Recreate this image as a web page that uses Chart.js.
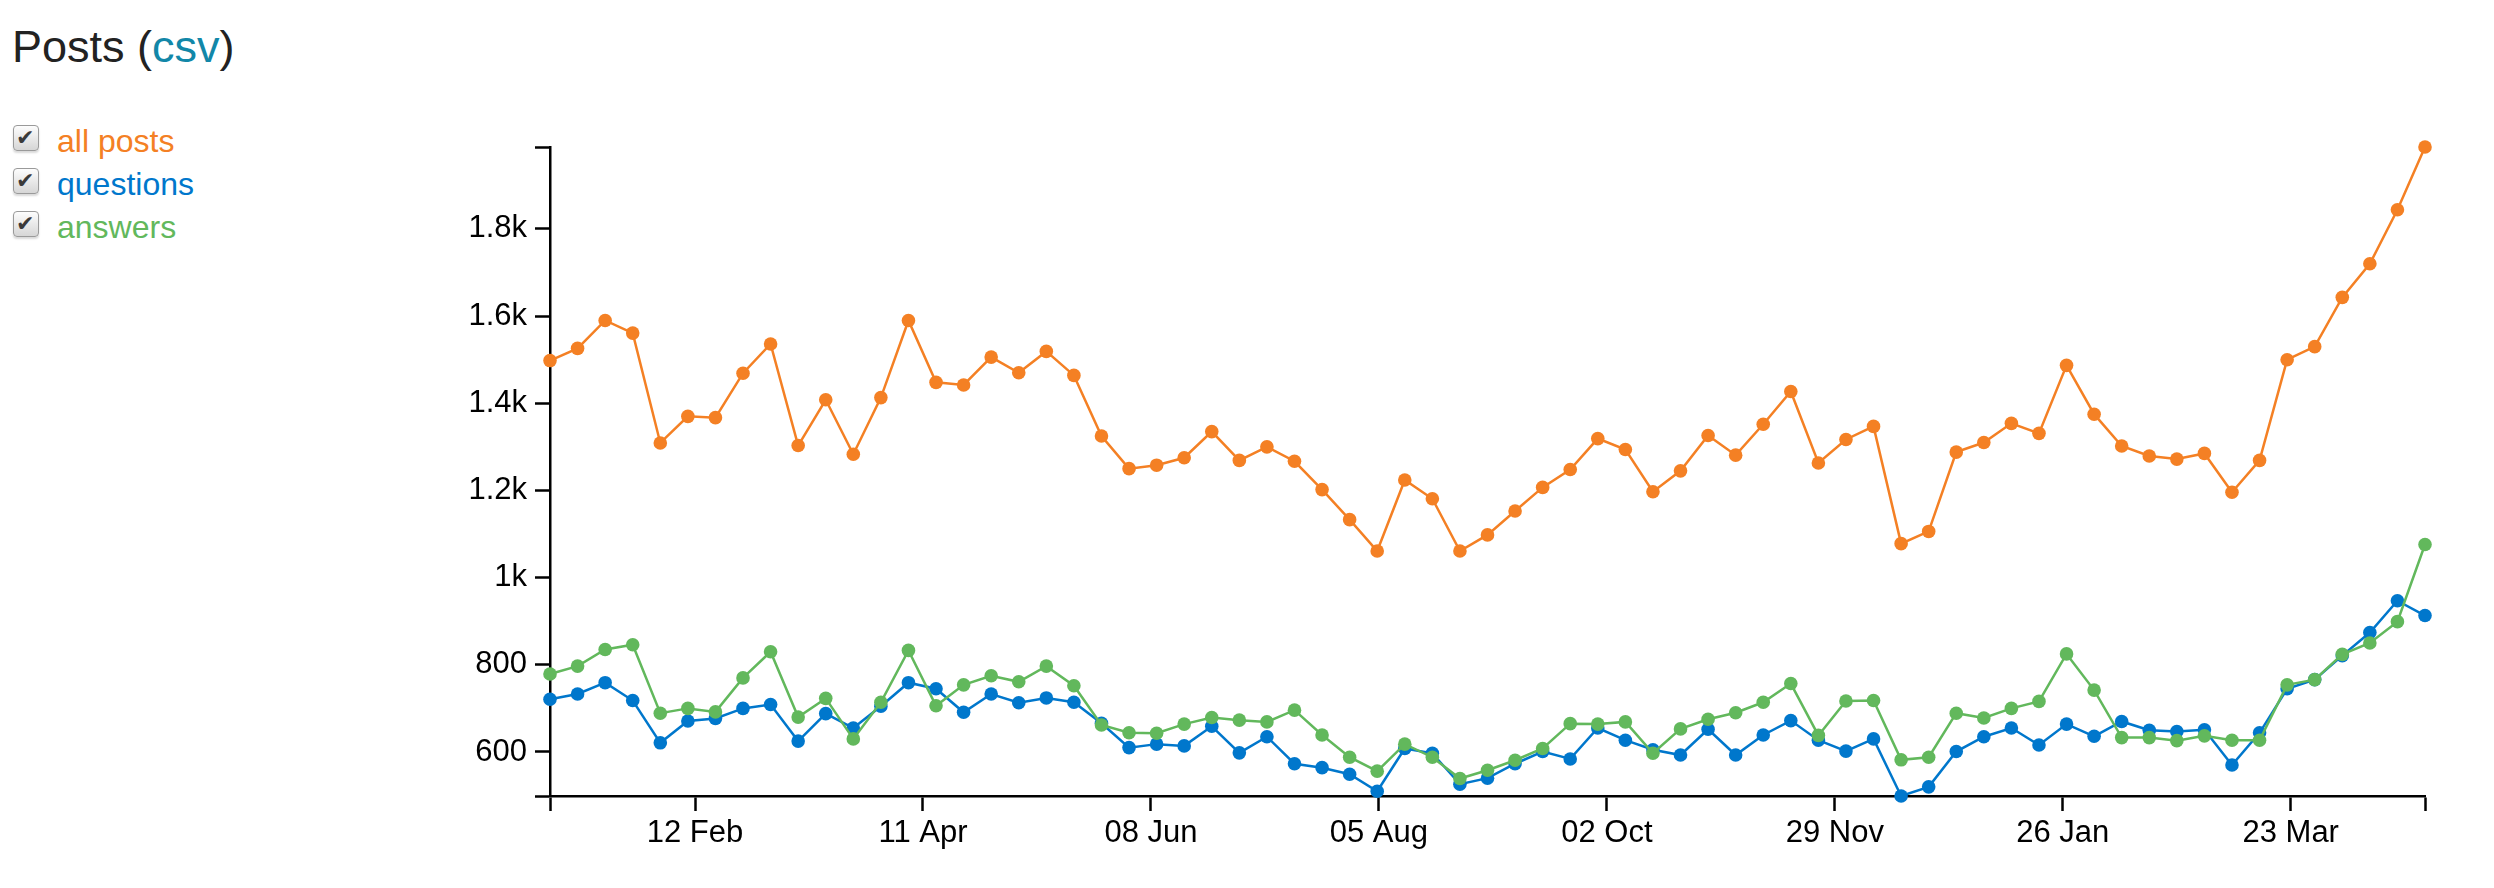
<!DOCTYPE html>
<html>
<head>
<meta charset="utf-8">
<title>Posts</title>
<script src="https://cdn.jsdelivr.net/npm/chart.js@4.4.1/dist/chart.umd.min.js"></script>
<style>
    html, body { margin: 0; padding: 0; background: #fff; overflow: hidden; }
    body { width: 2494px; height: 888px; position: relative; font-family: 'Liberation Sans', Arial, sans-serif; }
    #chart { position: absolute; left: 0; top: 0; }
    .title { position: absolute; left: 12px; top: 24px; font-size: 45px; line-height: 45px; color: #222; white-space: nowrap; }
    .title a { color: #1287a8; text-decoration: none; }
    .series { position: absolute; left: 13px; font-size: 32px; line-height: 32px; white-space: nowrap; cursor: pointer; }
    .series input { display: none; }
    .series .box {
        position: absolute; left: 0; top: 0; width: 24px; height: 24px;
        border: 1.5px solid #9a9a9a; border-radius: 4px;
        background: linear-gradient(#fdfdfd, #d6d6d6);
        box-shadow: 0 2px 2px rgba(0,0,0,0.15);
    }
    .series input:checked + .box::after {
        content: '\2714'; position: absolute; left: 2px; top: 0px;
        font-family: 'DejaVu Sans', sans-serif; font-size: 22px; line-height: 24px; color: #3a3a3a;
    }
    .series .name { position: absolute; left: 44px; top: 0; }
</style>
</head>
<body>
<div class="title">Posts (<a href="#">csv</a>)</div>
<label class="series" style="top:125px"><input type="checkbox" data-set="0" checked><span class="box"></span><span class="name" style="color:#f48024">all posts</span></label>
<label class="series" style="top:168px"><input type="checkbox" data-set="1" checked><span class="box"></span><span class="name" style="color:#0077cc">questions</span></label>
<label class="series" style="top:211px"><input type="checkbox" data-set="2" checked><span class="box"></span><span class="name" style="color:#62b85c">answers</span></label>
<canvas id="chart" width="2494" height="888"></canvas>
<script>
// weekly buckets, first week starts Monday 7 Jan 2019
const firstWeek = '2019-01-07';
const weekCount = 69;

const allPosts = [
    1498, 1526, 1590, 1561, 1309, 1370, 1367, 1469, 1536, 1303,
    1408, 1283, 1413, 1590, 1448, 1442, 1506, 1470, 1519, 1464,
    1325, 1250, 1258, 1275, 1335, 1269, 1300, 1267, 1202, 1133,
    1061, 1224, 1181, 1061, 1098, 1153, 1207, 1248, 1319, 1294,
    1197, 1245, 1326, 1281, 1352, 1427, 1263, 1317, 1347, 1078,
    1106, 1288, 1310, 1354, 1331, 1487, 1375, 1302, 1279, 1272,
    1285, 1196, 1269, 1500, 1530, 1643, 1720, 1844, 1988
];
const questions = [
    721, 733, 759, 718, 621, 671, 677, 700, 709, 625,
    688, 655, 705, 759, 745, 691, 733, 713, 724, 714,
    666, 610, 618, 614, 659, 598, 635, 573, 564, 549,
    510, 608, 597, 526, 540, 573, 601, 584, 655, 627,
    605, 593, 652, 593, 639, 672, 627, 602, 630, 499,
    520, 601, 635, 655, 616, 664, 636, 670, 650, 647,
    651, 570, 644, 745, 766, 821, 874, 947, 913
];
const answers = [
    779, 797, 835, 846, 689, 700, 692, 770, 830, 680,
    723, 630, 714, 833, 706, 754, 775, 761, 797, 752,
    662, 644, 643, 664, 679, 673, 669, 696, 639, 588,
    556, 618, 588, 539, 558, 581, 608, 665, 664, 669,
    597, 653, 675, 690, 714, 757, 638, 717, 718, 582,
    588, 689, 678, 700, 716, 825, 742, 633, 633, 626,
    637, 627, 627, 754, 766, 824, 850, 899, 1076
];

const yTickValues = [600, 800, 1000, 1200, 1400, 1600, 1800];
const yTickLabels = ['600', '800', '1k', '1.2k', '1.4k', '1.6k', '1.8k'];
const xTickStep = 5e9; // ms, the axis ticks sit on multiples of this
const monthNames = ['Jan', 'Feb', 'Mar', 'Apr', 'May', 'Jun', 'Jul', 'Aug', 'Sep', 'Oct', 'Nov', 'Dec'];

const DAY = 86400000;
const weeks = [];
for (let i = 0; i < weekCount; i++) {
    weeks.push(Date.parse(firstWeek + 'T00:00:00Z') + i * 7 * DAY);
}

const toPoints = (arr) => arr.map((v, i) => ({ x: weeks[i], y: v }));
const allValues = allPosts.concat(questions, answers);
const yMin = Math.min(...allValues);
const yMax = Math.max(...allValues);
const xMin = weeks[0];
const xMax = weeks[weeks.length - 1];

function fmtDate(ms) {
    const d = new Date(ms);
    const dd = String(d.getUTCDate()).padStart(2, '0');
    return dd + ' ' + monthNames[d.getUTCMonth()];
}

Chart.defaults.font.family = "'Liberation Sans', Arial, sans-serif";
Chart.defaults.font.size = 31;
Chart.defaults.color = '#000';

function series(label, data, color, order) {
    return {
        label: label,
        data: toPoints(data),
        borderColor: color,
        backgroundColor: color,
        pointBackgroundColor: color,
        pointBorderWidth: 0,
        pointRadius: 6.8,
        borderWidth: 2.5,
        tension: 0,
        clip: false,
        order: order
    };
}

const axisGrid = {
    drawOnChartArea: false,
    drawTicks: true,
    tickLength: 15,
    tickWidth: 2.5,
    tickColor: '#000',
    color: '#000'
};

const chart = new Chart(document.getElementById('chart').getContext('2d'), {
    type: 'line',
    data: {
        datasets: [
            series('all posts', allPosts, '#f48024', 2),
            series('questions', questions, '#0077cc', 1),
            series('answers', answers, '#62b85c', 0)
        ]
    },
    options: {
        responsive: false,
        devicePixelRatio: 1,
        animation: false,
        events: [],
        layout: { padding: { top: 147, right: 69, bottom: 0, left: 0 } },
        plugins: {
            legend: { display: false },
            title: { display: false },
            tooltip: { enabled: false }
        },
        scales: {
            x: {
                type: 'linear',
                min: xMin,
                max: xMax,
                grid: axisGrid,
                border: { display: true, color: '#000', width: 2.5 },
                afterFit: (scale) => { scale.height = 92; },
                afterBuildTicks: (scale) => {
                    const ticks = [{ value: xMin }];
                    for (let t = Math.ceil(xMin / xTickStep) * xTickStep; t < xMax; t += xTickStep) {
                        if (t > xMin) ticks.push({ value: t });
                    }
                    ticks.push({ value: xMax });
                    scale.ticks = ticks;
                },
                ticks: {
                    autoSkip: false,
                    maxRotation: 0,
                    padding: 4,
                    callback: (v) => (v === xMin || v === xMax) ? '' : fmtDate(v)
                }
            },
            y: {
                type: 'linear',
                min: yMin,
                max: yMax,
                grid: axisGrid,
                border: { display: true, color: '#000', width: 2.5 },
                afterFit: (scale) => { scale.width = 550; },
                afterBuildTicks: (scale) => {
                    scale.ticks = [yMin].concat(yTickValues, [yMax]).map(v => ({ value: v }));
                },
                ticks: {
                    autoSkip: false,
                    padding: 8,
                    callback: (v) => {
                        const k = yTickValues.indexOf(v);
                        return k >= 0 ? yTickLabels[k] : '';
                    }
                }
            }
        }
    }
});

// the checkboxes hide/show a series
document.querySelectorAll('.series input').forEach((box) => {
    box.addEventListener('change', () => {
        chart.setDatasetVisibility(Number(box.dataset.set), box.checked);
        chart.update();
    });
});
</script>
</body>
</html>
